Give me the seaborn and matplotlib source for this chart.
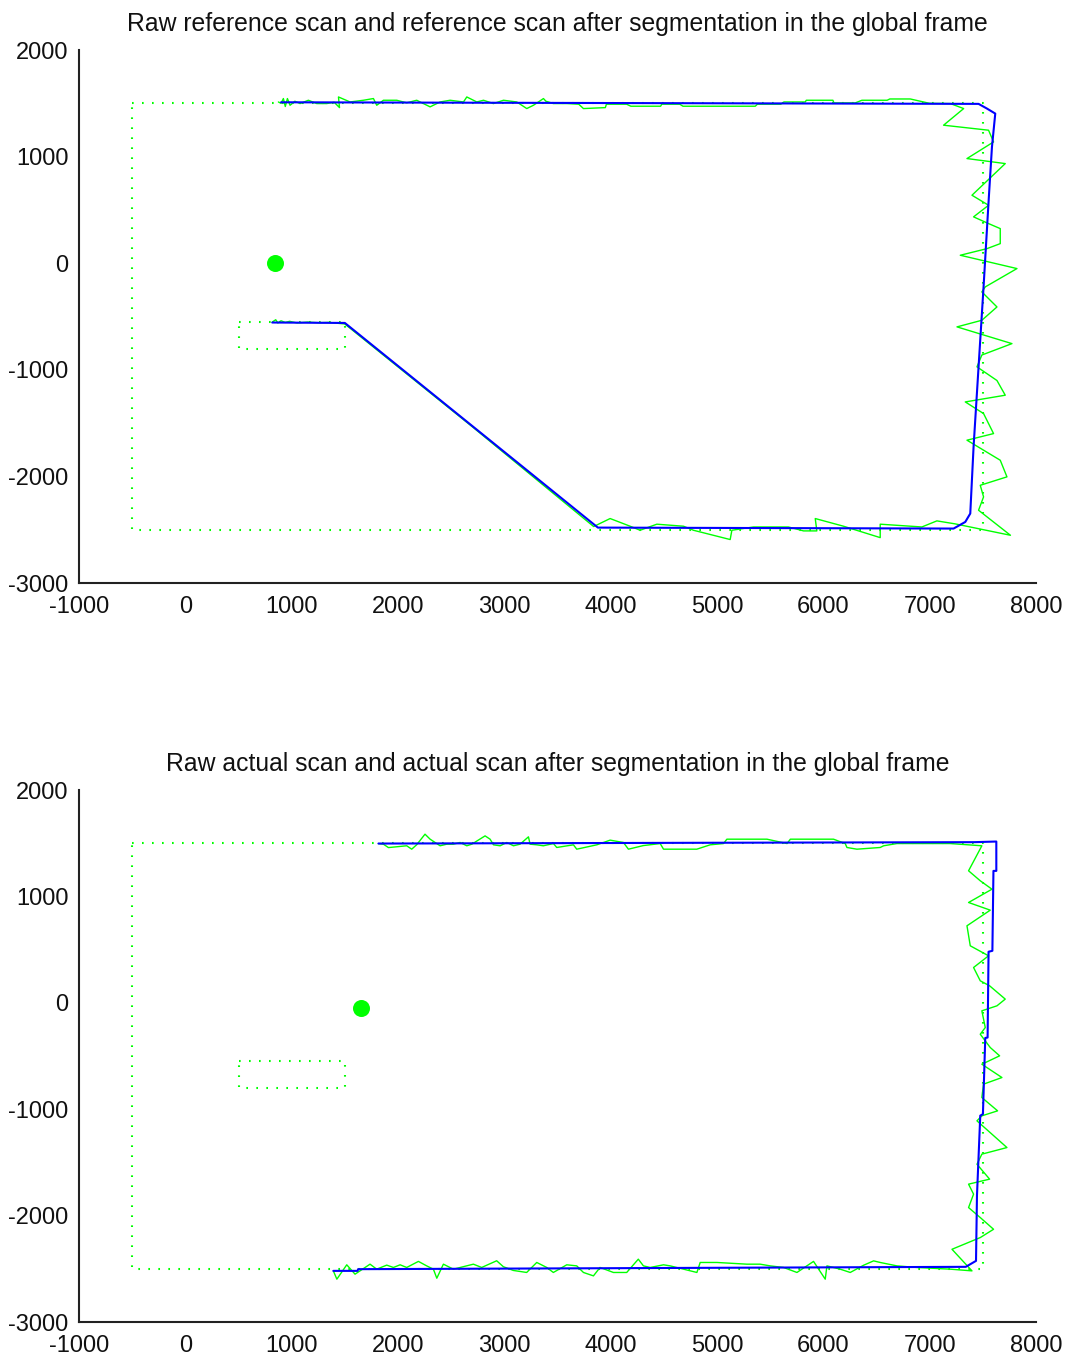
import matplotlib
matplotlib.use("Agg")
import matplotlib.pyplot as plt
import seaborn as sns
import pandas as pd

sns.set_style("white")
plt.rcParams["font.family"] = ["Liberation Sans", "DejaVu Sans"]
plt.rcParams["axes.unicode_minus"] = False

# ---------------- map of the environment (dotted outline) ----------------
room_x = [-500, 7500, 7500, -500, -500]
room_y = [1500, 1500, -2500, -2500, 1500]
box_x = [500, 1500, 1500, 500, 500]
box_y = [-550, -550, -800, -800, -550]

# ---------------- robot positions ----------------
robot_ref = (840, 0)
robot_act = (1650, -50)

# ---------------- reference scan: raw ----------------
ref_raw_x = [
    820, 850, 870, 900, 940, 980, 1050, 1150, 1250, 1350, 1500,
    2700, 3840,
    3995, 4183, 4277, 4434, 4685, 4779, 5124, 5140, 5343, 5672, 5814, 5939,
    5924, 6190, 6535, 6535, 6817, 6927, 7068, 7240, 7760,
    7460, 7507, 7476, 7727, 7664, 7351, 7601, 7507, 7335, 7711, 7633, 7445,
    7491, 7774, 7257, 7491, 7633, 7491, 7523, 7821, 7288, 7539, 7664, 7664,
    7554, 7413, 7554, 7398, 7711, 7351, 7601, 7554, 7131, 7320,
    7194, 7000, 6818, 6625, 6600, 6363, 6300, 6100, 6090, 5840, 5830, 5630,
    5600, 5380, 5360, 4680, 4650, 4480, 4470, 4190, 4150, 3960, 3950, 3744,
    3700, 3588, 3462, 3391, 3368, 3274, 3211, 3117, 2992, 2898, 2804, 2741,
    2647, 2616, 2490, 2396, 2302, 2176, 2082, 1988, 1863, 1800, 1769, 1675,
    1549, 1440, 1450, 1400, 1330, 1236, 1157, 1079, 1030, 985, 960, 940,
    922, 900, 875,
]
ref_raw_y = [
    -550, -530, -560, -540, -555, -545, -560, -552, -558, -555, -570,
    -1535, -2470,
    -2395, -2467, -2505, -2448, -2467, -2505, -2592, -2505, -2474, -2474, -2511, -2511,
    -2395, -2467, -2574, -2448, -2467, -2474, -2417, -2445, -2552,
    -2317, -2192, -2083, -2004, -1848, -1660, -1598, -1410, -1301, -1238, -1100, -972,
    -861, -754, -597, -535, -410, -269, -222, -50, 75, 137, 184, 325,
    372, 435, 544, 638, 935, 982, 1138, 1248, 1295, 1451,
    1498, 1500, 1541, 1541, 1529, 1529, 1504, 1504, 1529, 1529, 1513, 1513,
    1492, 1492, 1473, 1473, 1492, 1492, 1473, 1473, 1492, 1492, 1460, 1451,
    1492, 1498, 1498, 1520, 1545, 1482, 1451, 1513, 1529, 1498, 1529, 1513,
    1560, 1513, 1529, 1513, 1467, 1529, 1505, 1529, 1529, 1482, 1545, 1529,
    1513, 1560, 1460, 1510, 1498, 1498, 1529, 1498, 1520, 1482, 1545, 1470,
    1545, 1500, 1513,
]

# ---------------- reference scan: segmented ----------------
ref_seg_x = [817, 1500, 3880, 7225, 7335, 7382, 7413, 7460, 7507, 7554, 7586, 7617, 7539, 7460, 900]
ref_seg_y = [-556, -560, -2480, -2489, -2427, -2348, -1723, -972, -222, 576, 1091, 1404, 1451, 1495, 1510]

# ---------------- actual scan: raw ----------------
act_raw_x = [
    1392, 1425, 1518, 1596, 1737, 1800, 1894, 1957, 2020, 2082, 2192, 2270,
    2333, 2365, 2427, 2521, 2709, 2787, 2928, 2991, 3085, 3210, 3305, 3399,
    3461, 3587, 3681, 3744, 3838, 3900, 4026, 4151, 4260, 4308, 4372, 4497,
    4560, 4685, 4811, 4842, 5000, 5281, 5406, 5500, 5626, 5752, 5908, 6018,
    6034, 6159, 6253, 6379, 6473, 6535, 6692, 6880, 7194, 7398,
    7210, 7476, 7601, 7476, 7366, 7413, 7366, 7564, 7445, 7491, 7727, 7445,
    7491, 7639, 7491, 7507, 7680, 7491, 7658, 7570, 7476, 7523, 7491, 7633,
    7711, 7564, 7476, 7413, 7554, 7382, 7351, 7570, 7366, 7586, 7476, 7366,
    7491,
    7193, 6692, 6567, 6535, 6316, 6222, 6206, 6096, 5690, 5659, 5470, 5093,
    5061, 4936, 4810, 4497, 4466, 4308, 4167, 4120, 3995, 3870, 3681, 3650,
    3493, 3462, 3367, 3305, 3242, 3227, 3148, 3086, 3023, 2961, 2898, 2866,
    2819, 2694, 2647, 2584, 2521, 2459, 2396, 2302, 2254, 2175, 2129, 2082,
    1910, 1863, 1816,
]
act_raw_y = [
    -2519, -2597, -2462, -2550, -2456, -2503, -2465, -2487, -2462, -2487, -2430, -2472,
    -2503, -2588, -2456, -2503, -2456, -2487, -2424, -2480, -2515, -2534, -2440, -2487,
    -2534, -2462, -2472, -2534, -2566, -2487, -2534, -2534, -2409, -2472, -2487, -2462,
    -2472, -2503, -2534, -2440, -2440, -2456, -2456, -2472, -2487, -2534, -2430, -2597,
    -2472, -2503, -2534, -2466, -2425, -2440, -2472, -2487, -2503, -2519,
    -2316, -2206, -2128, -2018, -1924, -1798, -1704, -1657, -1517, -1422, -1360, -1109,
    -1062, -1015, -890, -764, -702, -577, -498, -420, -295, -232, -75, -28,
    35, 160, 207, 332, 442, 536, 724, 871, 943, 1068, 1147, 1241,
    1476,
    1497, 1497, 1476, 1460, 1444, 1460, 1497, 1538, 1538, 1497, 1538, 1538,
    1497, 1485, 1444, 1444, 1497, 1478, 1444, 1507, 1529, 1485, 1444, 1485,
    1460, 1497, 1476, 1485, 1491, 1560, 1491, 1476, 1507, 1476, 1485, 1538,
    1569, 1491, 1476, 1507, 1491, 1491, 1476, 1538, 1585, 1485, 1444, 1476,
    1459, 1491, 1497,
]

# ---------------- actual scan: segmented ----------------
act_seg_x = [1392, 1620, 1625, 7340, 7436, 7445, 7476, 7501, 7523, 7545, 7554, 7590, 7600, 7627, 7627, 7420, 1816]
act_seg_y = [-2519, -2519, -2503, -2481, -2425, -1813, -1060, -1046, -330, -326, 480, 489, 1240, 1240, 1516, 1510, 1497]

titles = [
    "Raw reference scan and reference scan after segmentation in the global frame",
    "Raw actual scan and actual scan after segmentation in the global frame",
]

GREEN = "#00ff00"
BLUE = "#0000ff"
DOT = (0, (0.8, 4.0))


def path(x, y):
    return pd.DataFrame({"x": x, "y": y})


def draw_panel(ax, raw_x, raw_y, seg_x, seg_y, robot, title):
    for mx, my in ((room_x, room_y), (box_x, box_y)):
        sns.lineplot(data=path(mx, my), x="x", y="y", ax=ax, sort=False,
                     estimator=None, color=GREEN, linewidth=1.5, linestyle=DOT)
    sns.lineplot(data=path(raw_x, raw_y), x="x", y="y", ax=ax, sort=False,
                 estimator=None, color=GREEN, linewidth=1.0)
    sns.lineplot(data=path(seg_x, seg_y), x="x", y="y", ax=ax, sort=False,
                 estimator=None, color=BLUE, linewidth=1.5)
    sns.scatterplot(x=[robot[0]], y=[robot[1]], ax=ax, color=GREEN, s=150,
                    edgecolor=GREEN, linewidth=0, zorder=5)
    ax.set_xlim(-1000, 8000)
    ax.set_ylim(-3000, 2000)
    ax.set_xticks(range(-1000, 8001, 1000))
    ax.set_yticks(range(-3000, 2001, 1000))
    ax.set_xlabel("")
    ax.set_ylabel("")
    ax.set_title(title, fontsize=17.8, pad=13.5, color="#111111")
    sns.despine(ax=ax)
    for side in ("left", "bottom"):
        ax.spines[side].set_linewidth(1.5)
        ax.spines[side].set_color("#222222")
    ax.tick_params(axis="both", direction="in", length=7, width=1.5,
                   colors="#222222", labelsize=17, labelcolor="#111111")
    ax.tick_params(axis="x", pad=9)
    ax.tick_params(axis="y", pad=7.5)


fig = plt.figure(figsize=(10.72, 13.6), dpi=100)
ax1 = fig.add_axes([0.0737, 0.5713, 0.8927, 0.3919])
ax2 = fig.add_axes([0.0737, 0.0279, 0.8927, 0.3912])

draw_panel(ax1, ref_raw_x, ref_raw_y, ref_seg_x, ref_seg_y, robot_ref, titles[0])
draw_panel(ax2, act_raw_x, act_raw_y, act_seg_x, act_seg_y, robot_act, titles[1])

fig.savefig("out.png", dpi=100, facecolor="white")
